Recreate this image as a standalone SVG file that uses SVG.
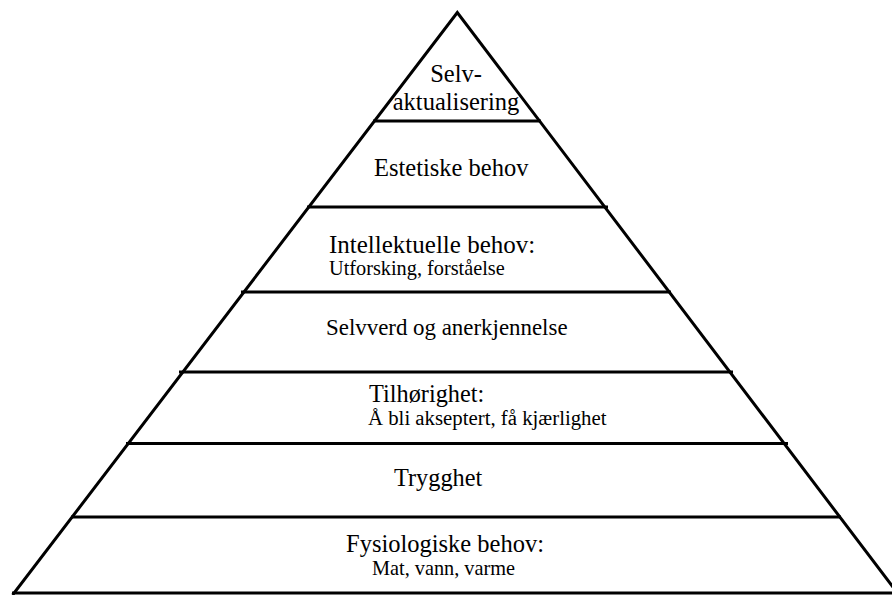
<svg xmlns="http://www.w3.org/2000/svg" width="892" height="595" viewBox="0 0 892 595">
  <style>
    .edge { stroke: #000; stroke-width: 3; fill: none; stroke-linecap: butt; stroke-linejoin: miter; }
    .div { stroke: #000; stroke-width: 3; }
    text { font-family: "Liberation Serif", "Times New Roman", serif; fill: #000; }
    .big { font-size: 24.5px; }
    .small { font-size: 20.3px; }
  </style>
  <rect width="892" height="595" fill="#fff"/>
  <g id="connectors">
    <polyline class="edge" points="12.6,595 457.3,12.5 899,595"/>
    <line class="div" x1="12" y1="593" x2="892" y2="593"/>
  </g>
  <g id="level7">
    <line class="div" x1="373" y1="121" x2="541" y2="121"/>
    <text class="big" x="456" y="82" text-anchor="middle">Selv-</text>
    <text class="big" x="456" y="110" text-anchor="middle">aktualisering</text>
  </g>
  <g id="level6">
    <line class="div" x1="307" y1="207" x2="608" y2="207"/>
    <text class="big" x="374" y="175.5">Estetiske behov</text>
  </g>
  <g id="level5">
    <line class="div" x1="241" y1="292" x2="671" y2="292"/>
    <text x="329" y="252.5" style="font-size:25px">Intellektuelle behov:</text>
    <text class="small" x="329" y="275">Utforsking, forståelse</text>
  </g>
  <g id="level4">
    <line class="div" x1="179" y1="372" x2="733" y2="372"/>
    <text x="326" y="335" style="font-size:22.9px">Selvverd og anerkjennelse</text>
  </g>
  <g id="level3">
    <line class="div" x1="126" y1="443.5" x2="788" y2="443.5"/>
    <text x="369" y="402" style="font-size:24.3px">Tilhørighet:</text>
    <text x="368" y="425" style="font-size:20.8px">Å bli akseptert, få kjærlighet</text>
  </g>
  <g id="level2">
    <line class="div" x1="71" y1="517" x2="841" y2="517"/>
    <text x="394" y="486" style="font-size:24.3px">Trygghet</text>
  </g>
  <g id="level1">
    <text class="big" x="346" y="552">Fysiologiske behov:</text>
    <text class="small" x="372" y="575">Mat, vann, varme</text>
  </g>
</svg>
